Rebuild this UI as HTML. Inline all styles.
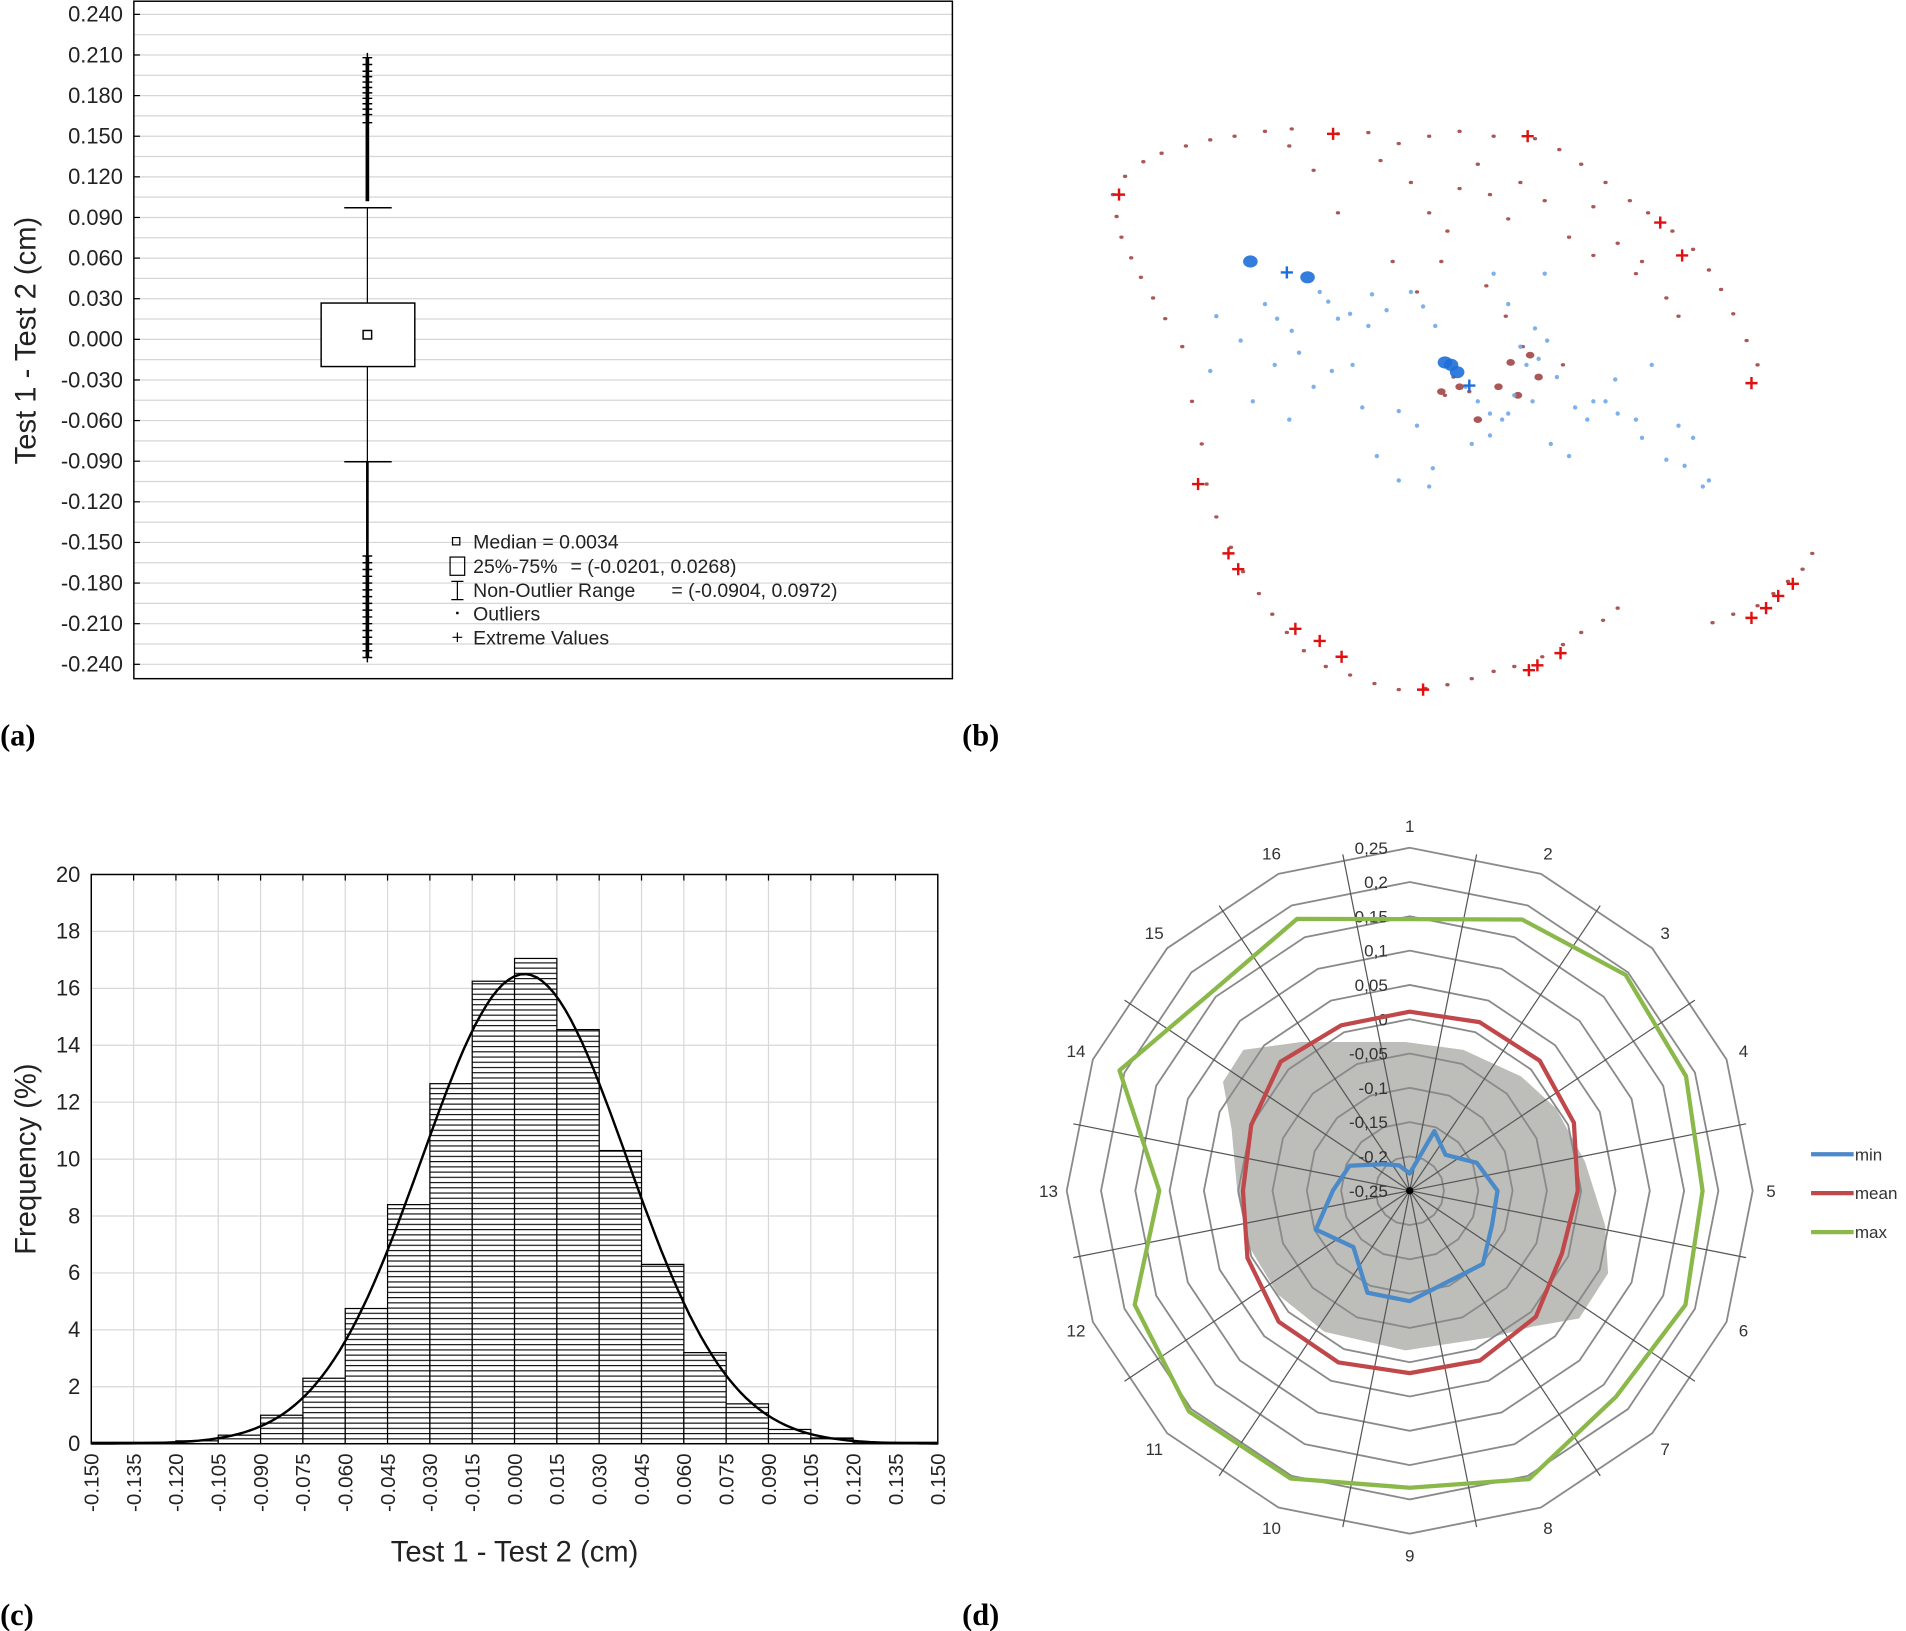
<!DOCTYPE html>
<html><head><meta charset="utf-8"><style>
html,body{margin:0;padding:0;background:#fff}
svg{display:block}
text{font-family:"Liberation Sans",sans-serif}
.pl{font-family:"Liberation Serif",serif;font-weight:bold;font-size:25px}
</style></head><body>
<svg id="root" xmlns="http://www.w3.org/2000/svg" width="1906" height="1631" viewBox="0 0 1567 1341">
<defs>
<pattern id="hatch" patternUnits="userSpaceOnUse" width="8" height="4.3"><rect width="8" height="4.3" fill="#fff"/><line x1="0" y1="0.5" x2="8" y2="0.5" stroke="#000" stroke-width="0.9"/></pattern>
</defs>
<g id="pa"></g>
<g id="pb"></g>
<g id="pc"></g>
<g id="pd"></g>
<text class="pl" x="0" y="613">(a)</text>
<text class="pl" x="791" y="613">(b)</text>
<text class="pl" x="0" y="1336">(c)</text>
<text class="pl" x="791" y="1336">(d)</text>
</svg>
<script>
// ---------- data ----------
const boxTicks = [0.24,0.21,0.18,0.15,0.12,0.09,0.06,0.03,0,-0.03,-0.06,-0.09,-0.12,-0.15,-0.18,-0.21,-0.24];
const boxStats = [0.0034,-0.0201,0.0268,-0.0904,0.0972]; // median,q1,q3,lo,hi
const extremeUpper = [0.102,0.108,0.115,0.122,0.13,0.138,0.145,0.152,0.16,0.166,0.17,0.174,0.178,0.182,0.186,0.19,0.194,0.198,0.203,0.208];
const extremeLower = [-0.16,-0.165,-0.17,-0.175,-0.18,-0.185,-0.19,-0.195,-0.2,-0.205,-0.21,-0.215,-0.22,-0.225,-0.23,-0.235];

const histStarts = [-0.15,-0.135,-0.12,-0.105,-0.09,-0.075,-0.06,-0.045,-0.03,-0.015,0,0.015,0.03,0.045,0.06,0.075,0.09,0.105,0.12,0.135];
const histFreq = [0.05,0.05,0.1,0.3,1.0,2.3,4.75,8.4,12.65,16.25,17.05,14.55,10.3,6.3,3.2,1.4,0.5,0.2,0.05,0.05];
const histXTicks = ["-0.150","-0.135","-0.120","-0.105","-0.090","-0.075","-0.060","-0.045","-0.030","-0.015","0.000","0.015","0.030","0.045","0.060","0.075","0.090","0.105","0.120","0.135","0.150"];
const histYTicks = [0,2,4,6,8,10,12,14,16,18,20];
const normFit = [0.0035,0.0364,16.5]; // mean, sd, peak

const radarAxes = ["1","2","3","4","5","6","7","8","9","10","11","12","13","14","15","16"];
const radarMin = [-0.225,-0.156,-0.176,-0.144,-0.122,-0.12,-0.099,-0.106,-0.089,-0.089,-0.134,-0.102,-0.138,-0.155,-0.195,-0.21];
const radarMean = [0.011,0.016,0.018,0.009,-0.005,-0.01,0.01,0.018,0.016,0.021,0.02,0.006,-0.007,0.0,0.016,0.011];
const radarMax = [0.146,0.178,0.195,0.186,0.177,0.185,0.175,0.205,0.183,0.204,0.205,0.184,0.115,0.208,0.159,0.179];
const radarRings = ["0,25","0,2","0,15","0,1","0,05","0","-0,05","-0,1","-0,15","-0,2","-0,25"];

const scatRedX = [915,925,940,955,975,995,1015,1040,1062,1100,1125,1150,1175,1200,1228,1262,1282,1300,1320,1340,1355,1375,1392,1405,1415,1425,1436,1445,918,922,930,938,948,958,972,980,988,992,1000,1012,1022,1035,1046,1058,1072,1090,1110,1130,1150,1172,1190,1210,1228,1245,1268,1285,1300,1318,1330,1408,1425,1445,1458,1470,1482,1490,1135,1160,1175,1190,1215,1225,1240,1250,1270,1290,1310,1330,1350,1060,1080,1100,1145,1165,1185,1200,1222,1238,1252,1285,1310,1345,1370,1380,1195,1188,1208];
const scatRedY = [160,145,133,126,120,115,112,108,106,110,109,118,112,108,112,114,123,135,150,165,175,190,205,222,238,258,280,300,178,195,212,228,245,262,285,330,365,398,425,450,470,488,505,520,535,548,555,562,567,566,563,558,552,548,540,530,520,510,500,512,505,498,488,478,468,455,132,150,175,190,135,160,180,150,165,195,170,200,215,120,140,175,215,240,215,155,235,260,285,300,210,225,245,260,310,325,322,300];
const scatRedX2 = [1185,1200,1242,1258,1232,1248,1265,1215];
const scatRedY2 = [322,318,298,292,318,325,310,345];
const redCrossX = [920,1096,1256,1365,1383,1440,985,1010,1018,1065,1085,1103,1170,1257,1264,1283,1440,1452,1462,1474];
const redCrossY = [160,110,112,183,210,315,398,455,468,517,527,540,567,551,547,537,508,500,490,480];
const blueX = [1028,1075,1193,1198,1188,1040,1050,1062,1085,1092,1100,1110,1125,1128,1140,1160,1170,1180,1205,1215,1225,1235,1245,1255,1265,1272,1280,1295,1305,1320,1330,1345,1358,1380,1392,1405,1000,995,1020,1048,1068,1080,1095,1120,1132,1150,1165,1178,1210,1225,1240,1260,1275,1290,1310,1328,1350,1370,1385,1400,1240,1262,1228,1250,1270,1112,1175,1150,1030,1060];
const blueY = [215,228,300,306,298,250,262,272,240,248,262,258,268,242,255,240,252,268,318,330,340,345,325,300,295,280,310,335,345,330,340,345,300,350,360,395,260,305,280,300,290,318,305,335,375,338,350,385,365,358,340,330,365,375,330,312,360,378,383,400,250,270,225,285,225,300,400,395,330,345];
const blueCrossX = [1058,1208];
const blueCrossY = [224,317];

// ---------- helpers ----------
const NS="http://www.w3.org/2000/svg";
function mk(parent,tag,attrs,txt){const e=document.createElementNS(NS,tag);for(const k in attrs)e.setAttribute(k,attrs[k]);if(txt!==undefined)e.textContent=txt;parent.appendChild(e);return e;}
const fmt3=v=>v.toFixed(3);

// ---------- (a) boxplot ----------
(function(){
const g=document.getElementById('pa');
const L=110,R=783,T=1,B=558;
const y=v=>279-v*1113.3;
for(let v=-0.255;v<=0.2551;v+=0.015){const yy=y(v);if(yy<T||yy>B)continue;
 const ln=mk(g,'line',{x1:L,x2:R,y1:yy,y2:yy,stroke:'#d6d6d6','stroke-width':1});
 
 }
const fr=mk(g,'rect',{x:L,y:T,width:R-L,height:B-T,fill:'none',stroke:'#000','stroke-width':1.2});

boxTicks.forEach(v=>{const t=mk(g,'text',{x:101,y:y(v)+6,'text-anchor':'end','font-size':18,fill:'#222'},v===0?'0.000':fmt3(v));
 
 const tk=mk(g,'line',{x1:L,x2:L+5,y1:y(v),y2:y(v),stroke:'#000'});
 });
const yl=mk(g,'text',{x:0,y:0,transform:'translate(29,280) rotate(-90)','text-anchor':'middle','font-size':24,fill:'#222'},'Test 1 - Test 2 (cm)');

const cx=302;
const [med,q1,q3,lo,hi]=boxStats;
const w1=mk(g,'line',{x1:cx,x2:cx,y1:y(hi),y2:y(q3),stroke:'#000'});
const w2=mk(g,'line',{x1:cx,x2:cx,y1:y(q1),y2:y(lo),stroke:'#000'});
const c1=mk(g,'line',{x1:283,x2:322,y1:y(hi),y2:y(hi),stroke:'#000','stroke-width':1.2});
const c2=mk(g,'line',{x1:283,x2:322,y1:y(lo),y2:y(lo),stroke:'#000','stroke-width':1.2});
const bx=mk(g,'rect',{x:264,y:y(q3),width:77,height:y(q1)-y(q3),fill:'#fff',stroke:'#000','stroke-width':1.2});

const md=mk(g,'rect',{x:cx-3.5,y:y(med)-3.5,width:7,height:7,fill:'#fff',stroke:'#000','stroke-width':1.2});

const ou=mk(g,'line',{x1:cx,x2:cx,y1:y(extremeUpper[extremeUpper.length-1]),y2:y(extremeUpper[0]),stroke:'#000','stroke-width':3});

const ol=mk(g,'line',{x1:cx,x2:cx,y1:y(extremeLower[0]),y2:y(extremeLower[extremeLower.length-1]),stroke:'#000','stroke-width':3});

const ol2=mk(g,'line',{x1:cx,x2:cx,y1:y(lo),y2:y(extremeLower[0]),stroke:'#000','stroke-width':2.2});

extremeUpper.concat(extremeLower).forEach(v=>{if(Math.abs(v)<0.155)return;
 const p=mk(g,'path',{d:`M${cx-4} ${y(v)}h8M${cx} ${y(v)-4}v8`,stroke:'#000','stroke-width':1.2});
 });
// legend
const lg=mk(g,'g',{});
mk(lg,'rect',{x:372,y:442,width:6,height:6,fill:'none',stroke:'#000'});
mk(lg,'rect',{x:370,y:458,width:12,height:15,fill:'none',stroke:'#000'});
mk(lg,'path',{d:'M371 478h10M376 478v15M371 493h10',stroke:'#000',fill:'none'});
mk(lg,'rect',{x:375,y:503,width:2,height:2,fill:'#000'});
mk(lg,'path',{d:'M372 524h8M376 520v8',stroke:'#000'});
const lt=[['Median = 0.0034',389,451],['25%-75%',389,471],['= (-0.0201, 0.0268)',469,471],['Non-Outlier Range',389,491],['= (-0.0904, 0.0972)',552,491],['Outliers',389,510],['Extreme Values',389,530]];
lt.forEach(a=>{const t=mk(lg,'text',{x:a[1],y:a[2],'font-size':16,fill:'#222'},a[0]);});
})();

// ---------- (b) scatter ----------
(function(){
const g=document.getElementById('pb');
scatRedX.forEach((x,i)=>{const c=mk(g,'ellipse',{cx:x,cy:scatRedY[i],rx:1.8,ry:1.4,fill:'#9c3a3a',opacity:0.85});
 });
scatRedX2.forEach((x,i)=>{const c=mk(g,'ellipse',{cx:x,cy:scatRedY2[i],rx:3.5,ry:2.8,fill:'#9c3a3a',opacity:0.85});
 });
blueX.forEach((x,i)=>{const big=i<5;const c=mk(g,'ellipse',{cx:x,cy:blueY[i],rx:big?6:1.8,ry:big?5:1.8,fill:big?'#1e6fd9':'#6fa8e8',opacity:0.9});
 });
redCrossX.forEach((x,i)=>{const y=redCrossY[i];const p=mk(g,'path',{d:`M${x-5} ${y}h10M${x} ${y-5}v10`,stroke:'#e01010','stroke-width':2});
 });
blueCrossX.forEach((x,i)=>{const y=blueCrossY[i];const p=mk(g,'path',{d:`M${x-5} ${y}h10M${x} ${y-5}v10`,stroke:'#1e6fd9','stroke-width':2});
 });
})();

// ---------- (c) histogram ----------
(function(){
const g=document.getElementById('pc');
const L=75,R=771,T=719,B=1187;
const x=v=>L+(v+0.15)/0.3*(R-L);
const y=f=>B-f*(B-T)/20;
histXTicks.forEach((s,i)=>{const xx=L+i*(R-L)/20;
 const gl=mk(g,'line',{x1:xx,x2:xx,y1:T,y2:B,stroke:'#d8d8d8'});
 const tk=mk(g,'line',{x1:xx,x2:xx,y1:T,y2:T+5,stroke:'#000'});
 const t=mk(g,'text',{x:0,y:0,transform:`translate(${xx+6},1195) rotate(-90)`,'text-anchor':'end','font-size':17,fill:'#222'},s);
 });
histYTicks.forEach(f=>{const yy=y(f);
 const gl=mk(g,'line',{x1:L,x2:R,y1:yy,y2:yy,stroke:'#d8d8d8'});
 const t=mk(g,'text',{x:66,y:yy+6,'text-anchor':'end','font-size':18,fill:'#222'},String(f));
 });
histStarts.forEach((s,i)=>{const x0=x(s),x1=x(s+0.015),yt=y(histFreq[i]);
 const r=mk(g,'rect',{x:x0,y:yt,width:x1-x0,height:B-yt,fill:'url(#hatch)',stroke:'#000','stroke-width':1});
 });
let d='';for(let v=-0.15;v<=0.1501;v+=0.002){const f=normFit[2]*Math.exp(-0.5*Math.pow((v-normFit[0])/normFit[1],2));d+=(d?'L':'M')+x(v).toFixed(1)+' '+y(f).toFixed(1);}
const c=mk(g,'path',{d:d,fill:'none',stroke:'#000','stroke-width':2});
const fr=mk(g,'rect',{x:L,y:T,width:R-L,height:B-T,fill:'none',stroke:'#000','stroke-width':1.2});
const xt=mk(g,'text',{x:423,y:1284,'text-anchor':'middle','font-size':24,fill:'#222'},'Test 1 - Test 2 (cm)');
const yt=mk(g,'text',{x:0,y:0,transform:'translate(29,953) rotate(-90)','text-anchor':'middle','font-size':24,fill:'#222'},'Frequency (%)');
})();

// ---------- (d) radar ----------
(function(){
const g=document.getElementById('pd');
const cx=1159,cy=979,RMAX=282;
const r=v=>(v+0.25)/0.5*RMAX;
const pt=(i,rad)=>{const a=i*Math.PI/8;return [cx+rad*Math.sin(a),cy-rad*Math.cos(a)];};
// stone image approximation
const blob=[[385,530],[420,470],[520,455],[700,455],[800,470],[900,520],[960,580],[1010,680],[1045,800],[1050,890],[1000,975],[920,990],[850,1010],[700,1035],[560,1000],[480,930],[430,840],[410,740],[400,620]].map(p=>[822.2+p[0]*0.4761,657.7+p[1]*0.4373]);
const st=mk(g,'path',{d:'M'+blob.map(p=>p[0].toFixed(1)+' '+p[1].toFixed(1)).join('L')+'Z',fill:'#bdbdba'});

for(let k=1;k<=10;k++){const rr=RMAX*k/10;let d='';for(let i=0;i<16;i++){const p=pt(i,rr);d+=(i?'L':'M')+p[0].toFixed(1)+' '+p[1].toFixed(1);}
 const ring=mk(g,'path',{d:d+'Z',fill:'none',stroke:'#8a8a8a','stroke-width':1.5});
 }
for(let i=0;i<16;i++){const a=(i+0.5)*Math.PI/8;const rr=RMAX*1.0;
 const sp=mk(g,'line',{x1:cx,y1:cy,x2:cx+rr*Math.sin(a),y2:cy-rr*Math.cos(a),stroke:'#555','stroke-width':1});
 }
radarRings.forEach((s,k)=>{const t=mk(g,'text',{x:1141,y:cy-RMAX+k*RMAX/10+5,'text-anchor':'end','font-size':14,fill:'#333'},s);
 });
radarAxes.forEach((s,i)=>{const a=i*Math.PI/8;const px=cx+297*Math.sin(a),py=cy-300*Math.cos(a);
 const t=mk(g,'text',{x:px,y:py+5,'text-anchor':'middle','font-size':14,fill:'#333'},s);
 });
const series=[[radarMax,'#8bb84a','max-series'],[radarMean,'#c0474a','mean-series'],[radarMin,'#4a8ac8','min-series']];
series.forEach(sr=>{let d='';sr[0].forEach((v,i)=>{const p=pt(i,r(v));d+=(i?'L':'M')+p[0].toFixed(1)+' '+p[1].toFixed(1);});
 const pth=mk(g,'path',{d:d+'Z',fill:'none',stroke:sr[1],'stroke-width':3.5,'stroke-linejoin':'round'});
 });
mk(g,'circle',{cx:cx,cy:cy,r:3,fill:'#000'});
const lg=mk(g,'g',{});
[['min','#4a8ac8',949],['mean','#c0474a',981],['max','#8bb84a',1013]].forEach(a=>{
 mk(lg,'line',{x1:1489,x2:1524,y1:a[2],y2:a[2],stroke:a[1],'stroke-width':3.5});
 const t=mk(lg,'text',{x:1525,y:a[2]+5,'font-size':14,fill:'#333'},a[0]);});
})();
</script>
</body></html>
